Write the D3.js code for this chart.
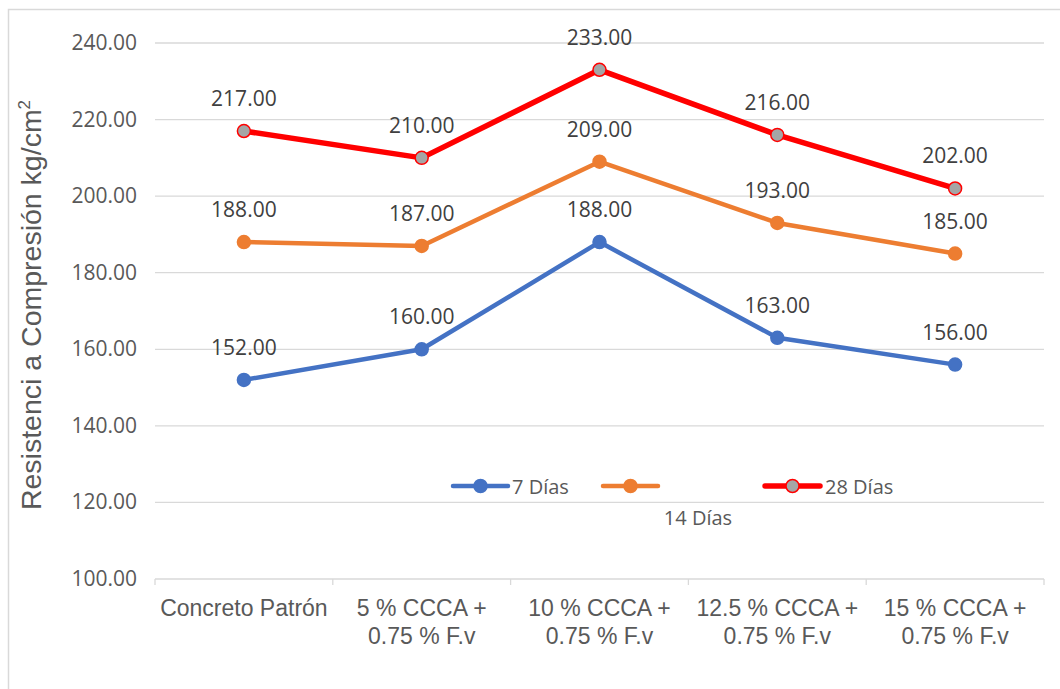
<!DOCTYPE html>
<html>
<head>
<meta charset="utf-8">
<script src="https://cdn.jsdelivr.net/npm/d3@7"></script>
<style>
  body { margin: 0; background: #fff; }
  svg { display: block; }
</style>
</head>
<body>
<svg width="1060" height="689"></svg>
<script>
var categories = [["Concreto Patrón"], ["5 % CCCA +", "0.75 % F.v"], ["10 % CCCA +", "0.75 % F.v"],
                  ["12.5 % CCCA +", "0.75 % F.v"], ["15 % CCCA +", "0.75 % F.v"]];
var dias7 = [152, 160, 188, 163, 156];
var dias14 = [188, 187, 209, 193, 185];
var dias28 = [217, 210, 233, 216, 202];
var yTicks = [100, 120, 140, 160, 180, 200, 220, 240];

var svg = d3.select("svg");
var grey = "#595959";

// chart frame
svg.append("rect")
    .attr("x", 8.5).attr("y", 9.5)
    .attr("width", 1070).attr("height", 700)
    .attr("fill", "#fff").attr("stroke", "#d9d9d9").attr("stroke-width", 1.5);

var x = d3.scaleBand().domain(d3.range(5)).range([155, 1044]);
var y = d3.scaleLinear().domain([100, 240]).range([579, 43]);

// gridlines
svg.append("g").selectAll("line")
    .data(yTicks.slice(1))
  .enter().append("line")
    .attr("x1", 155).attr("x2", 1044)
    .attr("y1", function(d) { return y(d); })
    .attr("y2", function(d) { return y(d); })
    .attr("stroke", "#d9d9d9").attr("stroke-width", 1.3);

// y labels
svg.append("g").selectAll("text")
    .data(yTicks)
  .enter().append("text")
    .attr("x", 137).attr("y", function(d) { return y(d) + 7; })
    .attr("text-anchor", "end")
    .style("font", "21px 'Open Sans', sans-serif")
    .attr("fill", grey)
    .text(function(d) { return d.toFixed(2); });

// x axis line + ticks
svg.append("line")
    .attr("x1", 155).attr("x2", 1044).attr("y1", y(100)).attr("y2", y(100))
    .attr("stroke", "#d9d9d9").attr("stroke-width", 1.3);
svg.append("g").selectAll("line")
    .data(d3.range(6))
  .enter().append("line")
    .attr("x1", function(i) { return 155 + i * x.bandwidth(); })
    .attr("x2", function(i) { return 155 + i * x.bandwidth(); })
    .attr("y1", y(100)).attr("y2", y(100) + 6)
    .attr("stroke", "#d9d9d9").attr("stroke-width", 1.3);

// x labels
var xl = svg.append("g").selectAll("text")
    .data(categories)
  .enter().append("text")
    .attr("x", function(d, i) { return x(i) + x.bandwidth() / 2; })
    .attr("y", 616)
    .attr("text-anchor", "middle")
    .style("font", "23px 'Liberation Sans', Arial, sans-serif")
    .attr("fill", grey);
xl.selectAll("tspan")
    .data(function(d) { return d; })
  .enter().append("tspan")
    .attr("x", function() { return d3.select(this.parentNode).attr("x"); })
    .attr("dy", function(d, i) { return i ? 28 : 0; })
    .text(function(d) { return d; });

// y title
svg.append("text")
    .attr("transform", "translate(41,305) rotate(-90)")
    .attr("text-anchor", "middle")
    .style("font", "28.5px 'Liberation Sans', Arial, sans-serif")
    .attr("fill", grey)
    .html("Resistenci a Compresión kg/cm<tspan dy='-11' font-size='17'>2</tspan>");

var series = [
  { name: "7 Días", values: dias7, color: "#4472C4", width: 4.5, fill: "#4472C4", stroke: "#4472C4" },
  { name: "14 Días", values: dias14, color: "#ED7D31", width: 4.5, fill: "#ED7D31", stroke: "#ED7D31" },
  { name: "28 Días", values: dias28, color: "#FF0000", width: 5.5, fill: "#A5A5A5", stroke: "#FF0000" }
];

var line = d3.line()
    .x(function(d, i) { return x(i) + x.bandwidth() / 2; })
    .y(function(d) { return y(d); });

series.forEach(function(s) {
  var g = svg.append("g");
  g.append("path")
      .attr("d", line(s.values))
      .attr("fill", "none")
      .attr("stroke", s.color)
      .attr("stroke-width", s.width)
      .attr("stroke-linejoin", "round");
  g.selectAll("circle")
      .data(s.values)
    .enter().append("circle")
      .attr("cx", function(d, i) { return x(i) + x.bandwidth() / 2; })
      .attr("cy", function(d) { return y(d); })
      .attr("r", 6.5)
      .attr("fill", s.fill)
      .attr("stroke", s.stroke)
      .attr("stroke-width", 1.5);
  g.selectAll("text")
      .data(s.values)
    .enter().append("text")
      .attr("x", function(d, i) { return x(i) + x.bandwidth() / 2; })
      .attr("y", function(d) { return y(d) - 25; })
      .attr("text-anchor", "middle")
      .style("font", "21px 'Open Sans', sans-serif")
      .attr("fill", "#404040")
      .text(function(d) { return d.toFixed(2); });
});

// legend
var legendPos = [
  { lx: 453, tx: 512, ty: 494, anchor: "start" },
  { lx: 603, tx: 698, ty: 525, anchor: "middle" },
  { lx: 765, tx: 825, ty: 494, anchor: "start" }
];
series.forEach(function(s, i) {
  var p = legendPos[i];
  var g = svg.append("g");
  g.append("line")
      .attr("x1", p.lx).attr("x2", p.lx + 55)
      .attr("y1", 486).attr("y2", 486)
      .attr("stroke", s.color).attr("stroke-width", s.width)
      .attr("stroke-linecap", "round");
  g.append("circle")
      .attr("cx", p.lx + 27.5).attr("cy", 486).attr("r", 6.5)
      .attr("fill", s.fill).attr("stroke", s.stroke).attr("stroke-width", 1.5);
  g.append("text")
      .attr("x", p.tx).attr("y", p.ty)
      .attr("text-anchor", p.anchor)
      .style("font", "20px 'Open Sans', sans-serif")
      .attr("fill", grey)
      .text(s.name);
});
</script>
</body>
</html>
